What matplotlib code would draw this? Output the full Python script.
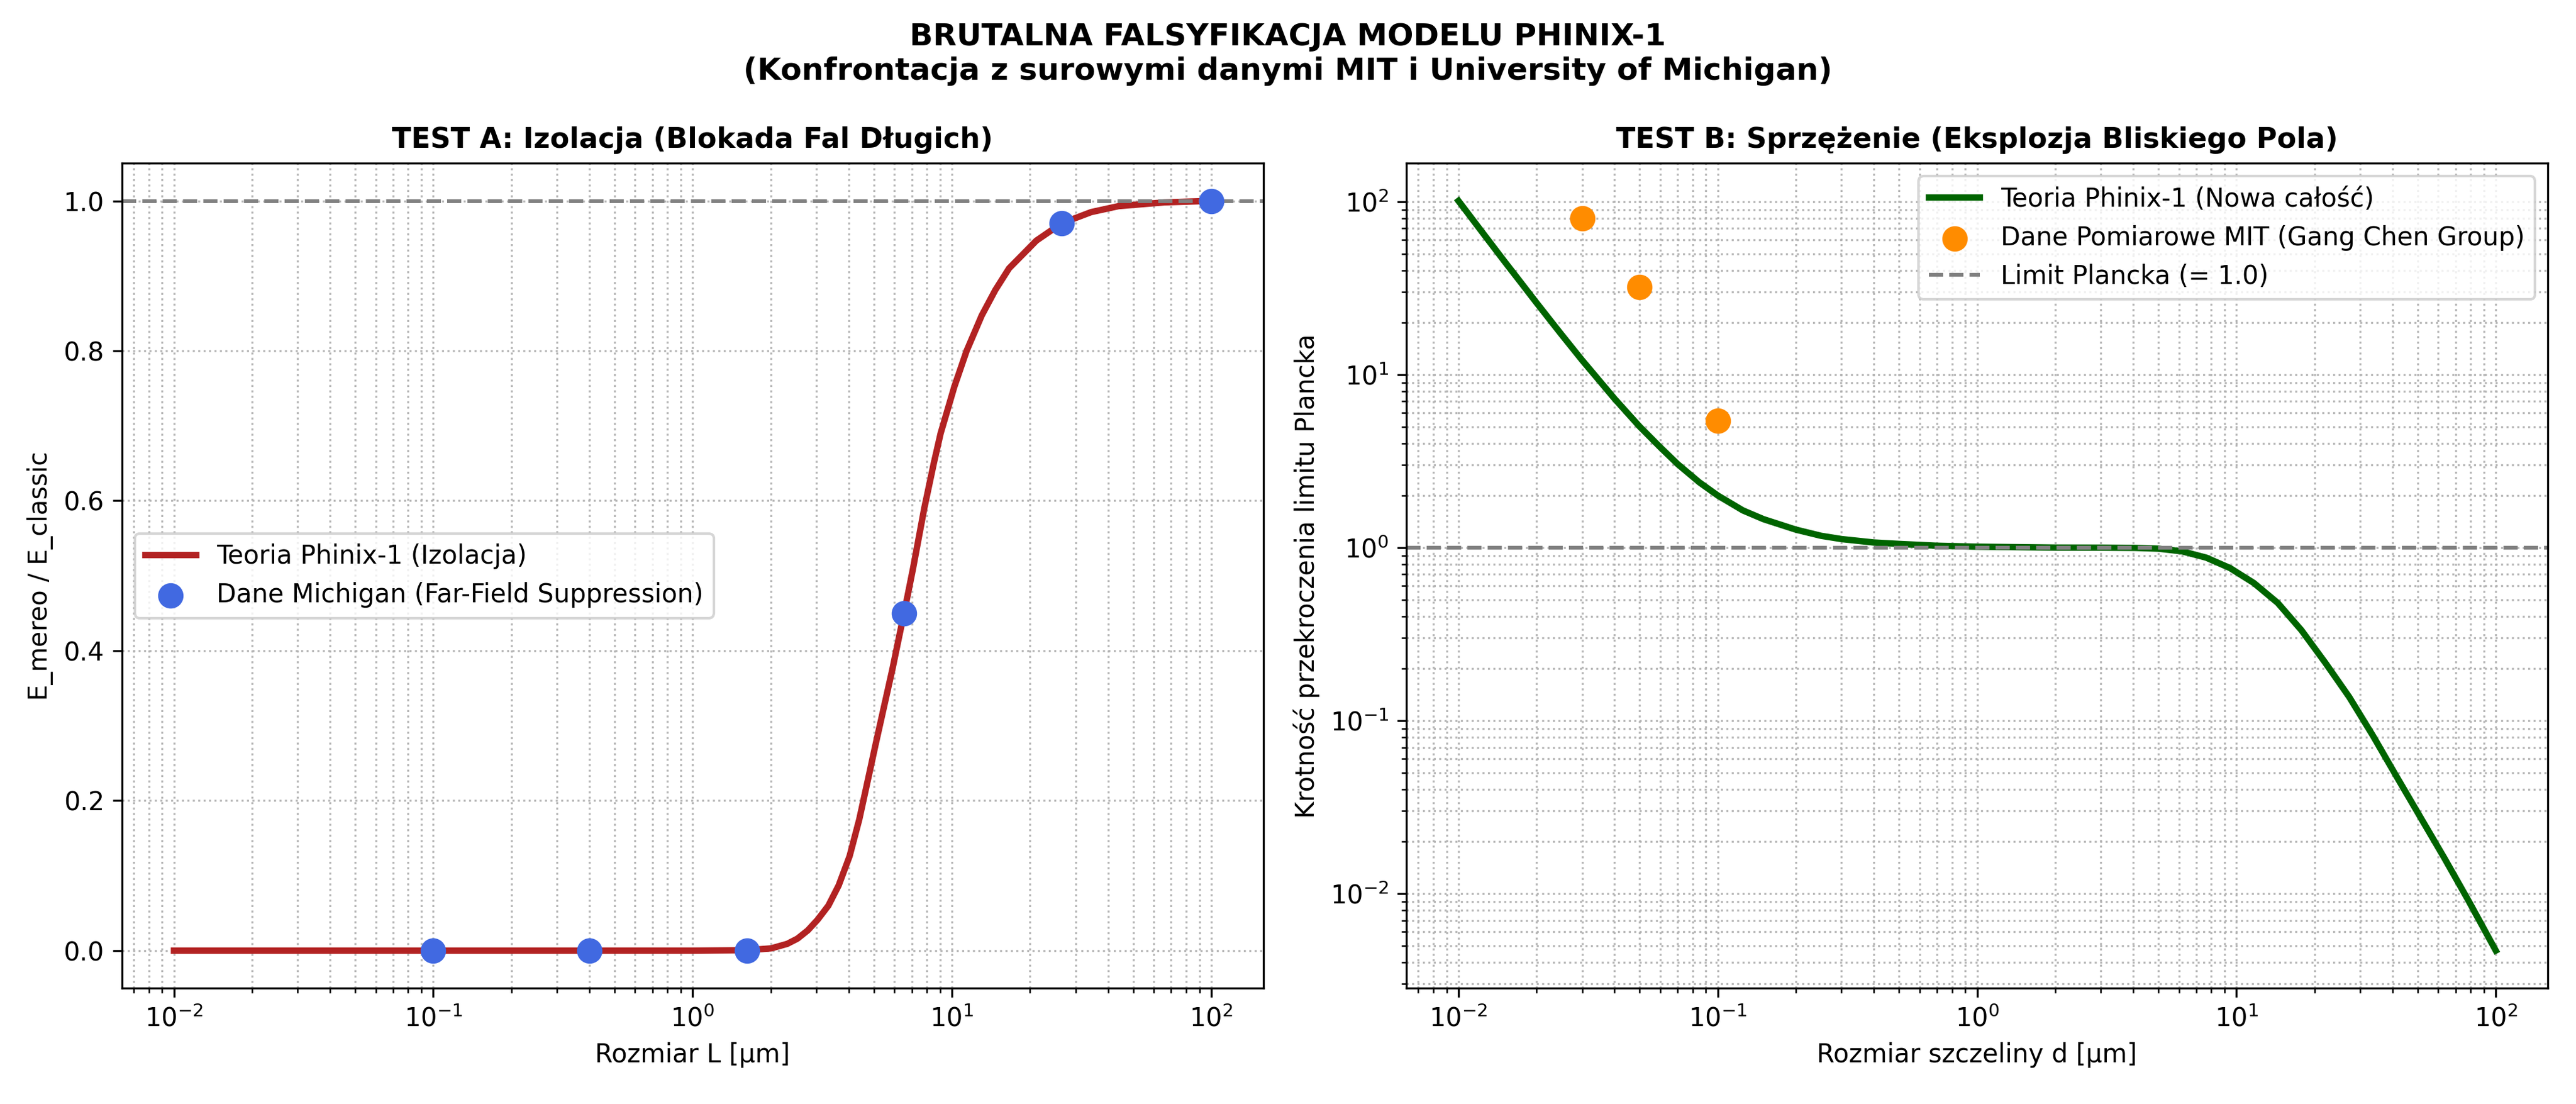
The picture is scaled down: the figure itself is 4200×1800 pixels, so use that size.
import matplotlib
matplotlib.use("Agg")
import matplotlib.pyplot as plt

# ---- Test A data ----
curve_a_L = [0.01, 0.03, 0.1, 0.3, 1.0, 1.62, 2.01, 2.317, 2.537, 2.781, 3.03, 3.338,
             3.658, 4.03, 4.391, 4.812, 5.083, 5.467, 5.89, 6.31, 6.58, 7.08, 7.82,
             8.51, 9.044, 10.21, 11.39, 13.02, 14.69, 16.6, 21.16, 26.45, 34.4, 43.9,
             65.9, 100.0]
curve_a_E = [0.0, 0.0, 0.0, 0.0, 0.0, 0.0005, 0.003, 0.009, 0.016, 0.027, 0.041, 0.060,
             0.087, 0.126, 0.175, 0.238, 0.276, 0.325, 0.375, 0.425, 0.455, 0.51, 0.59,
             0.65, 0.69, 0.752, 0.80, 0.847, 0.881, 0.910, 0.947, 0.970, 0.985, 0.993,
             0.998, 1.0]
michigan_L = [0.1, 0.4, 1.62, 6.55, 26.5, 100.0]
michigan_E = [0.0, 0.0, 0.0, 0.45, 0.97, 1.0]

# ---- Test B data ----
curve_b_d = [0.01, 0.0125, 0.015, 0.0175, 0.02, 0.025, 0.03, 0.035, 0.04, 0.05, 0.06,
             0.07, 0.085, 0.1, 0.125, 0.15, 0.2, 0.25, 0.3, 0.4, 0.5, 0.7, 1.0, 1.5,
             2.0, 3.0, 4.05, 5.0, 6.18, 7.64, 9.44, 11.67, 14.42, 17.8, 22.0, 27.2,
             33.6, 41.5, 51.3, 63.4, 78.4, 100.0]
curve_b_k = [101.0, 65.0, 45.4, 33.7, 26.0, 17.0, 12.1, 9.2, 7.25, 5.0, 3.8,
             3.04, 2.38, 2.0, 1.64, 1.46, 1.27, 1.17, 1.12, 1.07, 1.05, 1.025, 1.012, 1.005,
             1.0, 0.999, 0.996, 0.986, 0.951, 0.875, 0.762, 0.624, 0.479, 0.333, 0.216, 0.137,
             0.0817, 0.0473, 0.0275, 0.0160, 0.00912, 0.00468]
mit_d = [0.03, 0.05, 0.1]
mit_k = [80.0, 32.0, 5.4]

fig, (ax1, ax2) = plt.subplots(1, 2, figsize=(14, 6), dpi=300)
fig.subplots_adjust(left=0.0474, right=0.989, bottom=0.105, top=0.852, wspace=0.1257)

# Test A
ax1.plot(curve_a_L, curve_a_E, color="firebrick", lw=2.5, label="Teoria Phinix-1 (Izolacja)")
ax1.scatter(michigan_L, michigan_E, color="royalblue", s=80, zorder=5,
            label="Dane Michigan (Far-Field Suppression)")
ax1.axhline(1.0, color="gray", ls="--", lw=1.5)
ax1.set_xscale("log")
ax1.set_xlabel("Rozmiar L [µm]")
ax1.set_ylabel("E_mereo / E_classic")
ax1.set_title("TEST A: Izolacja (Blokada Fal Długich)", fontsize=11, fontweight="bold")
ax1.grid(True, which="both", ls=":", alpha=0.9)
ax1.legend(loc="center left")

# Test B
ax2.plot(curve_b_d, curve_b_k, color="darkgreen", lw=2.5, label="Teoria Phinix-1 (Nowa całość)")
ax2.scatter(mit_d, mit_k, color="darkorange", s=80, zorder=5,
            label="Dane Pomiarowe MIT (Gang Chen Group)")
ax2.axhline(1.0, color="gray", ls="--", lw=1.5, label="Limit Plancka (= 1.0)")
ax2.set_xscale("log")
ax2.set_yscale("log")
ax2.set_xlabel("Rozmiar szczeliny d [µm]")
ax2.set_ylabel("Krotność przekroczenia limitu Plancka")
ax2.set_title("TEST B: Sprzężenie (Eksplozja Bliskiego Pola)", fontsize=11, fontweight="bold")
ax2.grid(True, which="both", ls=":", alpha=0.9)
ax2.legend(loc="upper right")

fig.suptitle("BRUTALNA FALSYFIKACJA MODELU PHINIX-1\n"
             "(Konfrontacja z surowymi danymi MIT i University of Michigan)",
             fontsize=12, fontweight="bold")
fig.savefig("out.png", dpi=300)
